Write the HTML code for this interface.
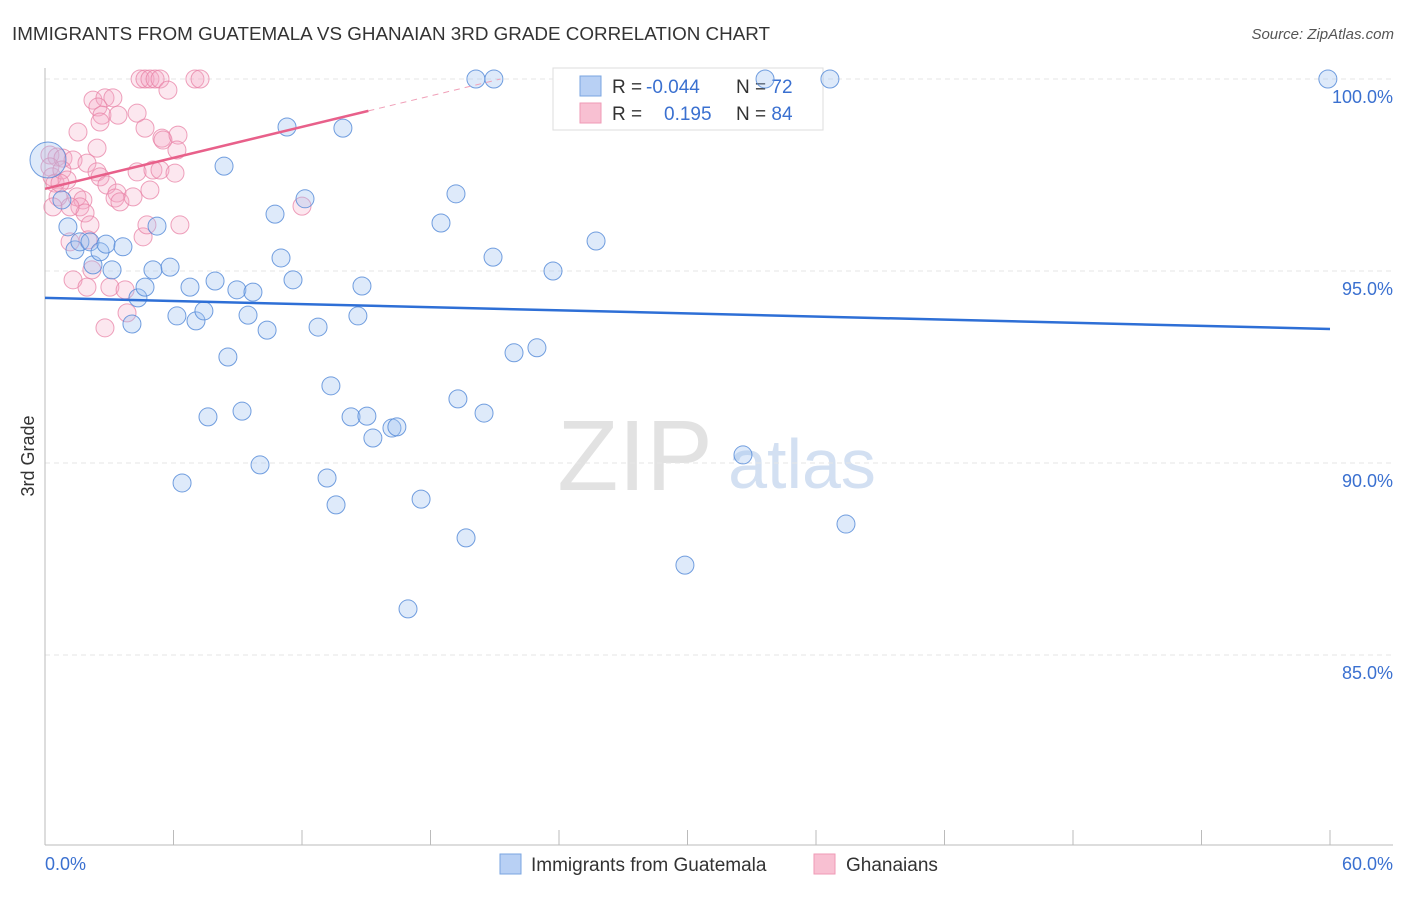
<!DOCTYPE html>
<html><head><meta charset="utf-8"><style>
body{margin:0;background:#fff;font-family:"Liberation Sans",sans-serif}
svg text{font-family:"Liberation Sans",sans-serif}
</style></head><body>
<svg id="chart" width="1406" height="892" viewBox="0 0 1406 892" xmlns="http://www.w3.org/2000/svg">
<text x="12" y="40" font-size="18" fill="#333" textLength="758" lengthAdjust="spacingAndGlyphs">IMMIGRANTS FROM GUATEMALA VS GHANAIAN 3RD GRADE CORRELATION CHART</text>
<text x="1394" y="39" font-size="15" fill="#555" font-style="italic" text-anchor="end">Source: ZipAtlas.com</text>
<text x="635" y="490" font-size="100" fill="#e2e2e2" font-family="Liberation Serif" text-anchor="middle">ZIP</text>
<text x="802" y="488" font-size="70" fill="#d3e0f2" text-anchor="middle">atlas</text>
<text transform="translate(34,456) rotate(-90)" font-size="18" fill="#333" text-anchor="middle">3rd Grade</text>
<g id="grid"></g><g id="axes"></g>
<g>
<rect x="553" y="68" width="270" height="62" fill="#fff" stroke="#ddd"/>
<rect x="580" y="76" width="21" height="20" fill="#b8d0f4" stroke="#7aa5e0"/>
<rect x="580" y="103" width="21" height="20" fill="#f8c0d2" stroke="#ef9ab6"/>
<text x="612" y="93" font-size="19" fill="#333">R = <tspan fill="#3a70d0" x="646">-0.044</tspan><tspan x="736" fill="#333">N = </tspan><tspan fill="#3a70d0">72</tspan></text>
<text x="612" y="120" font-size="19" fill="#333">R = <tspan fill="#3a70d0" x="664">0.195</tspan><tspan x="736" fill="#333">N = </tspan><tspan fill="#3a70d0">84</tspan></text>
</g>
<g id="marks"></g>
<g>
<rect x="500" y="854" width="21" height="20" fill="#b8d0f4" stroke="#7aa5e0"/>
<text x="531" y="871" font-size="19" fill="#333">Immigrants from Guatemala</text>
<rect x="814" y="854" width="21" height="20" fill="#f8c0d2" stroke="#ef9ab6"/>
<text x="846" y="871" font-size="19" fill="#333">Ghanaians</text>
</g>
</svg>
<script>
const blueX=[0.14,0.79,1.07,1.40,1.63,2.10,2.24,2.57,2.85,3.13,3.64,4.06,4.34,4.67,5.04,5.23,5.84,6.16,6.40,6.77,7.05,7.42,7.61,7.94,8.36,8.54,8.96,9.20,9.48,9.71,10.04,10.37,10.74,11.02,11.30,11.58,12.14,12.75,13.17,13.35,13.59,13.91,14.29,14.61,14.80,15.03,15.31,16.20,16.43,16.95,17.56,18.49,19.19,19.28,19.66,20.12,20.50,20.92,20.96,21.90,22.97,23.72,25.73,29.88,32.59,33.62,36.65,37.40,59.90];
const blueY=[97.89,96.85,96.15,95.55,95.76,95.76,95.16,95.50,95.70,95.03,95.63,93.62,94.30,94.58,95.03,96.17,95.10,93.83,89.48,94.58,93.70,93.96,91.20,94.74,97.73,92.76,94.51,91.35,93.85,94.45,89.95,93.46,96.48,95.34,98.75,94.77,96.88,93.54,89.61,92.01,88.91,98.72,91.20,93.83,94.61,91.22,90.65,90.91,90.94,86.20,89.06,96.25,97.01,91.67,88.05,100,91.30,95.36,100,92.87,93.00,95.00,95.78,87.34,90.21,100,100,88.41,100];
const pinkX=[4.44,4.67,4.90,5.14,5.37,7.00,7.24,5.74,2.24,2.80,3.17,2.47,2.66,2.57,3.41,4.30,4.67,5.46,5.51,6.21,6.16,1.54,2.43,0.23,0.56,0.84,1.31,1.96,2.43,2.57,4.30,5.04,5.37,6.07,2.89,3.36,3.27,3.50,4.11,4.90,1.49,1.77,1.63,1.87,2.10,1.17,2.01,4.58,4.76,6.30,1.31,1.96,3.03,3.74,2.19,3.83,2.80,0.23,0.33,0.47,0.79,1.03,0.61,1.17,0.37,12.00,0.70];
const pinkY=[100,100,100,100,100,100,100,99.71,99.45,99.51,99.51,99.27,99.06,98.88,99.06,99.11,98.72,98.46,98.41,98.54,98.15,98.62,98.20,98.02,97.97,97.94,97.89,97.81,97.58,97.45,97.58,97.63,97.63,97.55,97.24,97.03,96.90,96.80,96.93,97.11,96.93,96.85,96.67,96.51,96.20,95.76,95.81,95.89,96.20,96.20,94.77,94.58,94.58,94.51,95.03,93.91,93.52,97.71,97.45,97.29,97.63,97.37,96.93,96.67,96.67,96.69,97.29];
const blueTrend=[94.30,93.49];
const pinkTrend=[97.14,99.17,15.1];
const yTicks=[100,95,90,85];
const yTickLabels=["100.0%","95.0%","90.0%","85.0%"];
const xTickLabels=["0.0%","60.0%"];

const NS="http://www.w3.org/2000/svg";
const X0=45,X1=1330,Y100=79,PXPER=192/5;
function sx(v){return X0+(v/60)*(X1-X0);}
function sy(v){return Y100+(100-v)*PXPER;}
function mk(tag,attrs,parent){const e=document.createElementNS(NS,tag);for(const k in attrs)e.setAttribute(k,attrs[k]);parent.appendChild(e);return e;}
const grid=document.getElementById('grid'),axes=document.getElementById('axes'),marks=document.getElementById('marks');
yTicks.forEach((t,i)=>{
  const l=mk('line',{x1:X0,x2:1393,y1:sy(t),y2:sy(t),stroke:'#e6e6e6','stroke-dasharray':'5,4'},grid);
  
  
  const tx=mk('text',{x:1393,y:sy(t)+24,'font-size':18,fill:'#3a70d0','text-anchor':'end'},grid);
  tx.textContent=yTickLabels[i];
  
  
});
const ya=mk('line',{x1:X0,x2:X0,y1:68,y2:845,stroke:'#bbb'},axes);


const xa=mk('line',{x1:X0,x2:1393,y1:845,y2:845,stroke:'#bbb'},axes);


for(let v=0;v<=60;v+=6){
  const tk=mk('line',{x1:sx(v),x2:sx(v),y1:830,y2:845,stroke:'#bbb'},axes);
  
  
}
[[0,'start',45],[60,'end',1393]].forEach((p,i)=>{
  const t=mk('text',{x:p[2],y:870,'font-size':18,fill:'#3a70d0','text-anchor':p[1]},axes);
  t.textContent=xTickLabels[i];
  
  
});
pinkX.forEach((x,i)=>{
  const c=mk('circle',{cx:sx(x),cy:sy(pinkY[i]),r:9,fill:'rgba(245,170,198,0.28)',stroke:'rgba(232,130,165,0.75)','stroke-width':1},marks);
  
  
});
blueX.forEach((x,i)=>{
  const c=mk('circle',{cx:sx(x),cy:sy(blueY[i]),r:i===0?18:9,fill:'rgba(160,195,240,0.35)',stroke:'rgba(80,135,215,0.8)','stroke-width':1},marks);
  
  
});
const bt=mk('line',{x1:sx(0),y1:sy(blueTrend[0]),x2:sx(60),y2:sy(blueTrend[1]),stroke:'#2e6fd6','stroke-width':2.5},marks);


const slope=(pinkTrend[1]-pinkTrend[0])/pinkTrend[2];
const xEnd=(100-pinkTrend[0])/slope;
const pd=mk('line',{x1:sx(pinkTrend[2]),y1:sy(pinkTrend[1]),x2:sx(xEnd),y2:sy(100),stroke:'#f0a0b8','stroke-width':1,'stroke-dasharray':'6,5'},marks);


const pt=mk('line',{x1:sx(0),y1:sy(pinkTrend[0]),x2:sx(pinkTrend[2]),y2:sy(pinkTrend[1]),stroke:'#e8608a','stroke-width':2.5},marks);


</script>
</body></html>
